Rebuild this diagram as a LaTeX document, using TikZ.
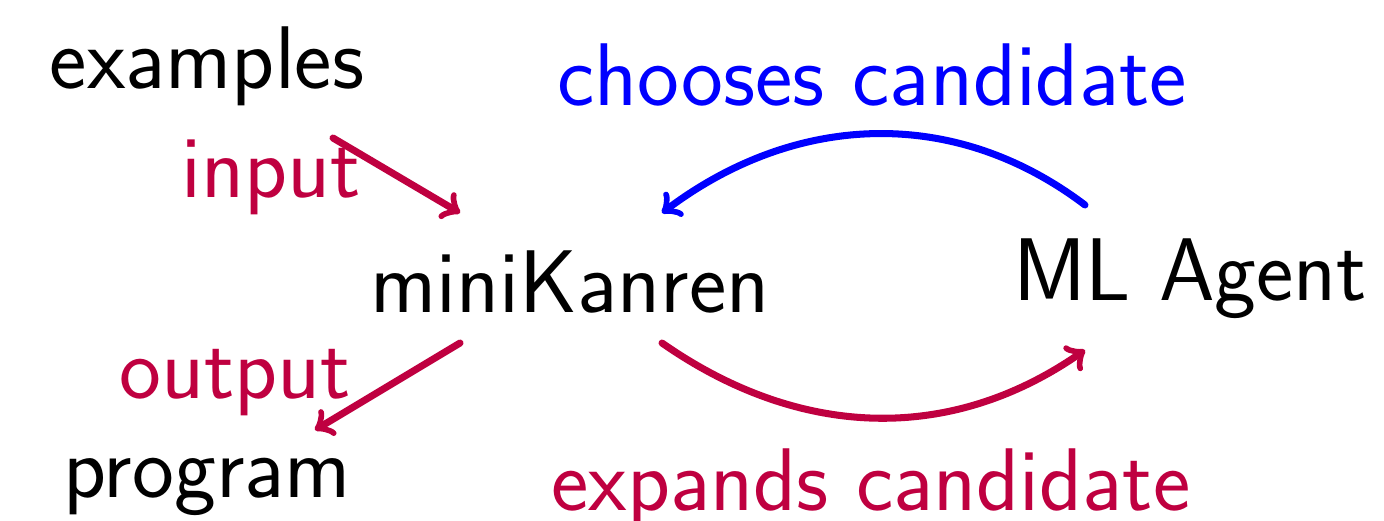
\documentclass[tikz,border=0pt]{standalone}
\usepackage{xcolor}
\definecolor{lblpurple}{rgb}{0.75,0,0.25}
\begin{document}
\begin{tikzpicture}[x=0.01cm,y=-0.01cm,
  txt/.style={font=\sffamily\fontsize{25.3}{30}\selectfont, anchor=base, inner sep=0pt},
  lbl/.style={txt, text=lblpurple},
  arr/.style={->, line width=2pt, line cap=round, color=lblpurple},
  barr/.style={arr, color=blue}]
\useasboundingbox (0,0) rectangle (1384,521);
\node[txt] (examples) at (207,88) {examples};
\node[txt] (mk) at (570,312) {miniKanren};
\node[txt] (ml) at (1190,300) {ML Agent};
\node[txt] (program) at (207,497) {program};
\node[lbl] (input) at (271,197) {input};
\node[lbl] (output) at (235,398) {output};
\node[txt, text=blue] (choose) at (872,105) {chooses candidate};
\node[lbl] (expand) at (871,510) {expands candidate};
\coordinate (exOut) at (333,138);
\coordinate (mkIn) at (460,213);
\coordinate (mkOut) at (460,343);
\coordinate (prIn) at (315,430);
\coordinate (mlOut) at (1085,205);
\coordinate (mkIn2) at (662,213);
\coordinate (mkOut2) at (662,343);
\coordinate (mlIn) at (1085,350);
\draw[arr] (exOut) -- (mkIn);
\draw[arr] (mkOut) -- (prIn);
\draw[barr] (mlOut) .. controls (953,105) and (794,113) .. (mkIn2);
\draw[arr] (mkOut2) .. controls (798,438) and (949,445) .. (mlIn);
\end{tikzpicture}
\end{document}
